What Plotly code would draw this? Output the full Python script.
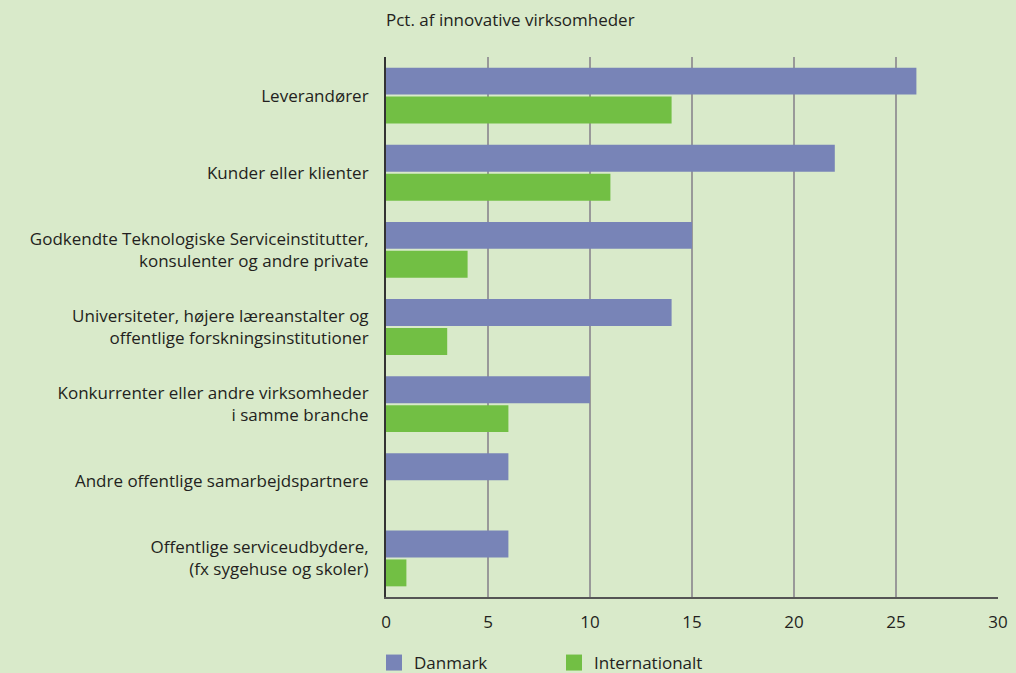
import plotly.graph_objects as go

categories = [
    "Leverandører",
    "Kunder eller klienter",
    "Godkendte Teknologiske Serviceinstitutter,<br>konsulenter og andre private",
    "Universiteter, højere læreanstalter og<br>offentlige forskningsinstitutioner",
    "Konkurrenter eller andre virksomheder<br>i samme branche",
    "Andre offentlige samarbejdspartnere",
    "Offentlige serviceudbydere,<br>(fx sygehuse og skoler)",
]
danmark = [26, 22, 15, 14, 10, 6, 6]
internationalt = [14, 11, 4, 3, 6, 0, 1]
x_ticks = [0, 5, 10, 15, 20, 25, 30]

FONT = "Open Sans"
TXT = "#231f20"
BG = "#d9eaca"
C_DK = "#7884b7"
C_INT = "#72bf44"

fig = go.Figure()
fig.add_trace(go.Bar(y=categories, x=danmark, orientation="h", name="Danmark",
                     marker=dict(color=C_DK, line=dict(width=0)), showlegend=False))
fig.add_trace(go.Bar(y=categories, x=internationalt, orientation="h", name="Internationalt",
                     marker=dict(color=C_INT, line=dict(width=0)), showlegend=False))
# legend proxies (square swatches)
for name, col in [("Danmark", C_DK), ("Internationalt", C_INT)]:
    fig.add_trace(go.Scatter(x=[None], y=[None], mode="markers", name=name,
                             marker=dict(symbol="square", size=16, color=col, line=dict(width=0)),
                             showlegend=True))

fig.update_layout(
    width=1016, height=673,
    paper_bgcolor=BG, plot_bgcolor=BG,
    margin=dict(l=386, r=18, t=57, b=76, autoexpand=False),
    barmode="group", bargap=0.25, bargroupgap=0.07,
    font=dict(family=FONT, size=17, color=TXT),
    showlegend=True,
    legend=dict(orientation="h", x=-0.0196, xanchor="left",
                yref="container", y=1 - 663/673, yanchor="middle",
                font=dict(size=17, color=TXT), entrywidth=135, entrywidthmode="pixels",
                bgcolor="rgba(0,0,0,0)", traceorder="normal", itemsizing="trace"),
    title=dict(text="Pct. af innovative virksomheder", x=386/1016, xanchor="left",
               y=1 - 20/673, yanchor="middle", font=dict(size=17, color=TXT, family=FONT)),
)
fig.update_xaxes(range=[0, 30], tickvals=x_ticks, showgrid=True, gridcolor="#999999", gridwidth=1.5,
                 zeroline=False, showline=True, linecolor="#555555", linewidth=2, automargin=False,
                 ticks="", ticklabelstandoff=9, tickfont=dict(size=17, color=TXT))
fig.update_yaxes(autorange="reversed", showgrid=False, zeroline=False, showline=True,
                 linecolor="#333333", linewidth=2, ticks="", ticklabelstandoff=12, automargin=False,
                 tickfont=dict(size=17, color=TXT))

fig.write_html("out.html", config={"displayModeBar": False},
               post_script="document.body.style.margin='0';")
